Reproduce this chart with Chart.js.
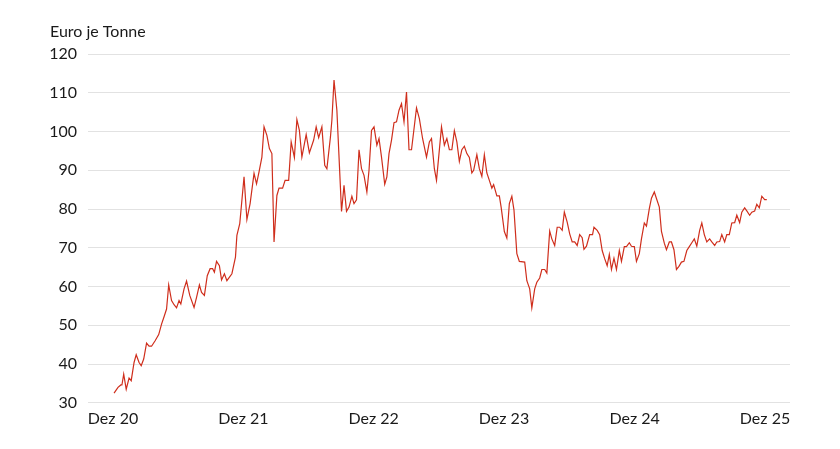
<!DOCTYPE html>
<html>
<head>
<meta charset="utf-8">
<script src="https://cdn.jsdelivr.net/npm/chart.js@4"></script>
<style>
  html, body { margin: 0; padding: 0; background: #fff; }
  #wrap { width: 840px; height: 449px; }
</style>
</head>
<body>
<div id="wrap"><canvas id="chart"></canvas></div>
<script>
// Tage seit Dez 20 und Preis in Euro je Tonne
const days = [3, 14, 22, 25, 30, 37, 45, 51, 59, 65, 73, 79, 86, 94, 101, 108, 118, 128, 136, 143,
  150, 156, 164, 171, 178, 185, 190, 199, 206, 215, 227, 234, 242, 248, 256, 264, 272, 279, 284, 290,
  298, 304, 312, 319, 333, 343, 347, 355, 367, 375, 384, 395, 402, 409, 417, 423, 431, 438, 445, 451,
  459, 465, 475, 482, 492, 499, 508, 515, 522, 529, 541, 550, 562, 569, 576, 585, 593, 599, 609, 613,
  619, 627, 640, 647, 654, 661, 669, 675, 682, 689, 696, 703, 711, 717, 724, 731, 739, 745, 752, 761,
  767, 773, 780, 787, 794, 801, 808, 815, 822, 829, 836, 850, 858, 867, 878, 886, 892, 900, 906, 920,
  928, 935, 942, 949, 956, 963, 970, 977, 984, 991, 998, 1005, 1010, 1019, 1026, 1033, 1040, 1047, 1054, 1061,
  1066, 1075, 1082, 1087, 1096, 1103, 1110, 1117, 1123, 1131, 1138, 1153, 1159, 1167, 1173, 1181, 1187, 1195, 1201, 1209,
  1215, 1223, 1229, 1237, 1244, 1251, 1258, 1264, 1272, 1279, 1286, 1293, 1300, 1307, 1314, 1319, 1326, 1335, 1343, 1347,
  1356, 1363, 1370, 1377, 1384, 1390, 1396, 1403, 1410, 1418, 1424, 1432, 1438, 1446, 1452, 1460, 1466, 1474, 1480, 1488,
  1494, 1502, 1508, 1516, 1522, 1530, 1536, 1544, 1550, 1558, 1564, 1571, 1578, 1585, 1592, 1599, 1607, 1614, 1621, 1628,
  1635, 1643, 1649, 1656, 1663, 1671, 1677, 1685, 1691, 1699, 1705, 1713, 1719, 1726, 1733, 1741, 1747, 1755, 1761, 1769,
  1775, 1783, 1789, 1797, 1803, 1810, 1817, 1825, 1831];

const prices = [32.5, 34.0, 34.6, 34.6, 37.4, 33.5, 36.4, 35.7, 40.4, 42.4, 40.4, 39.6, 41.3, 45.4, 44.6, 44.6, 46.0, 47.6, 50.3, 52.2,
  54.2, 60.4, 56.4, 55.3, 54.5, 56.4, 55.5, 59.4, 61.4, 57.7, 54.6, 57.2, 60.4, 58.5, 57.7, 62.8, 64.6, 64.6, 63.7, 66.5,
  65.4, 61.7, 63.3, 61.5, 63.3, 67.6, 73.2, 76.2, 88.3, 77.3, 81.4, 89.2, 86.5, 89.6, 93.4, 101.2, 99.0, 95.6, 94.3, 71.5,
  83.5, 85.4, 85.4, 87.4, 87.4, 97.3, 93.3, 103.1, 100.3, 93.4, 99.2, 94.5, 97.8, 101.2, 98.4, 101.2, 91.3, 90.4, 98.6, 102.9,
  113.3, 105.5, 79.4, 86.1, 79.4, 80.5, 83.3, 81.4, 82.4, 95.3, 90.4, 88.7, 84.4, 90.0, 100.3, 101.2, 96.5, 98.2, 93.4, 86.4,
  88.3, 94.3, 97.8, 102.3, 102.5, 105.5, 107.2, 102.5, 110.2, 95.3, 95.3, 106.1, 103.3, 98.2, 93.4, 97.3, 98.2, 90.4, 87.4, 101.2,
  96.5, 98.2, 95.3, 95.3, 100.2, 97.3, 92.3, 95.3, 96.2, 94.3, 93.3, 89.3, 90.0, 94.0, 90.4, 88.4, 94.0, 89.3, 87.4, 85.4,
  86.3, 83.4, 83.4, 80.5, 74.2, 72.5, 81.4, 83.3, 79.7, 68.5, 66.5, 66.3, 61.5, 59.4, 54.5, 59.4, 61.1, 62.2, 64.4, 64.4,
  63.5, 74.3, 72.3, 70.6, 75.3, 75.3, 74.5, 79.2, 76.6, 73.6, 71.5, 71.5, 70.6, 73.4, 72.6, 69.6, 70.4, 73.4, 73.4, 75.3,
  74.5, 73.4, 69.3, 67.2, 65.4, 68.3, 64.4, 67.3, 64.4, 69.3, 66.5, 70.3, 70.3, 71.3, 70.4, 70.3, 66.5, 68.5, 72.3, 76.4,
  75.6, 80.1, 82.8, 84.4, 82.7, 80.5, 74.2, 71.2, 69.5, 71.5, 71.5, 69.5, 64.4, 65.2, 66.3, 66.5, 69.3, 70.3, 71.3, 72.3,
  70.4, 74.5, 76.4, 73.4, 71.5, 72.3, 71.5, 70.6, 71.5, 71.6, 73.4, 71.5, 73.4, 73.4, 76.4, 76.5, 78.4, 76.5, 79.2, 80.3,
  79.5, 78.4, 79.2, 79.5, 81.2, 80.3, 83.3, 82.4, 82.4];

const tickDays = [0, 365, 730, 1095, 1461, 1826];
const tickLabels = ["Dez 20", "Dez 21", "Dez 22", "Dez 23", "Dez 24", "Dez 25"];

const fontFamily = "Lato, 'Open Sans', sans-serif";
const textColor = "#1a1a1a";

const points = days.map((d, i) => ({ x: d, y: prices[i] }));

const ctx = document.getElementById('chart');
const chart = new Chart(ctx, {
    type: "line",
    data: {
        datasets: [{
            label: 'Euro je Tonne',
            data: points,
            borderColor: '#cf2e1c',
            borderWidth: 1.2,
            pointRadius: 0,
            fill: false,
            tension: 0
        }]
    },
    options: {
        responsive: true,
        maintainAspectRatio: false,
        animation: false,
        layout: {
            padding: { left: 50, right: 50, top: 22, bottom: 15 }
        },
        plugins: {
            legend: { display: false },
            tooltip: { enabled: false },
            title: {
                display: true,
                text: 'Euro je Tonne',
                align: 'start',
                color: textColor,
                font: { family: fontFamily, size: 16, weight: 'normal', lineHeight: 1.2 },
                padding: { top: 0, bottom: 12.8 }
            }
        },
        scales: {
            x: {
                type: 'linear',
                min: -70,
                max: 1896,
                grid: { display: false, drawTicks: false },
                border: { display: false },
                afterBuildTicks: function(scale) {
                    scale.ticks = tickDays.map(v => ({ value: v }));
                },
                ticks: {
                    autoSkip: false,
                    maxRotation: 0,
                    padding: 6,
                    color: textColor,
                    font: { family: fontFamily, size: 16 },
                    callback: function(value) {
                        const i = tickDays.indexOf(value);
                        return i >= 0 ? tickLabels[i] : '';
                    }
                }
            },
            y: {
                min: 30,
                max: 120,
                grid: { color: '#e2e2e2', lineWidth: 1, drawTicks: false },
                border: { display: false },
                afterFit: function(scale) { scale.width = 38; },
                ticks: {
                    stepSize: 10,
                    padding: 11,
                    color: textColor,
                    font: { family: fontFamily, size: 16 }
                }
            }
        }
    }
});
</script>
</body>
</html>
